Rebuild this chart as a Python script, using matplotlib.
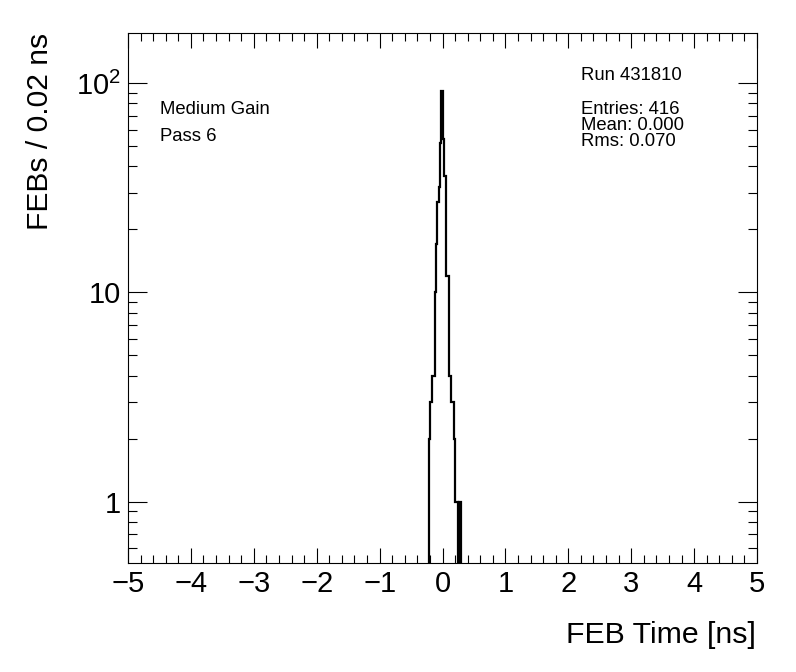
import matplotlib
matplotlib.use("Agg")
import matplotlib.pyplot as plt
import numpy as np
from matplotlib.ticker import FixedLocator, FixedFormatter, MultipleLocator

plt.rcParams['font.family'] = ['Liberation Sans', 'DejaVu Sans']
plt.rcParams['mathtext.fontset'] = 'custom'
plt.rcParams['mathtext.rm'] = 'Liberation Sans'

# FEB time histogram, 0.02 ns bins from -5 to 5 ns
x_min, x_max, bin_width = -5.0, 5.0, 0.02
first_bin_edge = -0.22          # left edge of first non-empty bin
counts = [2, 3, 3, 4, 4, 10, 17, 27, 32, 52, 92,
          54, 36, 36, 12, 12, 4, 4, 3, 3, 2, 1, 1, 0, 1, 1]

stats_lines = ["Entries: 416", "Mean: 0.000", "Rms: 0.070"]
run_label = "Run 431810"
gain_label = "Medium Gain"
pass_label = "Pass 6"

n_bins = int(round((x_max - x_min) / bin_width))
edges = np.linspace(x_min, x_max, n_bins + 1)
hist = np.zeros(n_bins)
start = int(round((first_bin_edge - x_min) / bin_width))
hist[start:start + len(counts)] = counts

W, H = 796, 672
fig = plt.figure(figsize=(W / 100, H / 100), dpi=100)
ax = fig.add_axes([128 / W, 1 - 562.7 / H, (757 - 128) / W, (562.7 - 33.3) / H])

ax.stairs(hist, edges, baseline=0, color='black', lw=1.6)

ax.set_yscale('log')
ax.set_xlim(x_min, x_max)
ax.set_ylim(0.511, 173)

ax.xaxis.set_major_locator(MultipleLocator(1))
ax.xaxis.set_minor_locator(MultipleLocator(0.2))
ax.yaxis.set_major_locator(FixedLocator([1, 10, 100]))
ax.yaxis.set_major_formatter(FixedFormatter(['1', '10', r'$\mathregular{10^{2}}$']))
minor_y = [m * d for d in (0.1, 1, 10, 100) for m in range(2, 10)]
ax.yaxis.set_minor_locator(FixedLocator(minor_y))
ax.yaxis.set_minor_formatter(FixedFormatter([''] * len(minor_y)))

ax.tick_params(axis='both', which='both', direction='in', top=True, right=True,
               width=0.8, labelsize=21)
ax.tick_params(axis='x', which='major', length=11, pad=5)
ax.tick_params(axis='x', which='minor', length=5.5)
ax.tick_params(axis='y', which='major', length=13.5, pad=5)
ax.tick_params(axis='y', which='minor', length=6.5)
for s in ax.spines.values():
    s.set_linewidth(0.8)

fig.text(756 / W, 1 - 643 / H, "FEB Time [ns]", ha='right', va='baseline', fontsize=21.8)
fig.text(40 / W, 1 - 33 / H, "FEBs / 0.02 ns", rotation=90, ha='center', va='top', fontsize=21.6)

fs = 13.3
fig.text(581 / W, 1 - 80 / H, run_label, ha='left', va='baseline', fontsize=fs)
for i, line in enumerate(stats_lines):
    fig.text(581 / W, 1 - (114 + 15.8 * i) / H, line, ha='left', va='baseline', fontsize=fs)
fig.text(160 / W, 1 - 114 / H, gain_label, ha='left', va='baseline', fontsize=fs)
fig.text(160 / W, 1 - 141 / H, pass_label, ha='left', va='baseline', fontsize=fs)

fig.savefig("out.png", dpi=100, facecolor='white')
